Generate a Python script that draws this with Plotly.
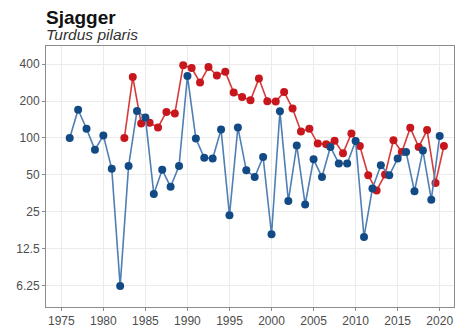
import plotly.graph_objects as go

blue_years = list(range(1976, 2021))
blue_values = [100, 170, 119, 80, 105, 56, 6.2, 59, 166, 147,
               35, 55, 40, 59, 320, 99, 69, 68, 117, 23.4,
               122, 54.5, 48, 70, 16.4, 165, 30.6, 87, 28.7, 67,
               48, 84.5, 62, 62, 94.5, 15.6, 38.7, 60, 49.6, 68,
               77, 36.8, 79, 31.4, 104]

red_years = list(range(1982, 2021))
red_values = [100, 314, 131, 133, 122, 163, 158, 392, 372, 283,
              379, 323, 346, 235, 216, 203, 305, 199, 198, 237,
              174, 113, 119, 90, 89, 95, 75, 109, 86, 49.6,
              37.4, 50.3, 96, 77, 121, 84.5, 116, 43, 86]

tick_vals = [6.25, 12.5, 25, 50, 100, 200, 400]
tick_text = ["6.25", "12.5", "25", "50", "100", "200", "400"]
x_ticks = [1975, 1980, 1985, 1990, 1995, 2000, 2005, 2010, 2015, 2020]

fig = go.Figure()
fig.add_trace(go.Scatter(
    x=[y + 0.5 for y in red_years], y=red_values, mode="lines+markers",
    line=dict(color="#d63a3a", width=1.6),
    marker=dict(color="#c8161d", size=8),
    showlegend=False))
fig.add_trace(go.Scatter(
    x=blue_years, y=blue_values, mode="lines+markers",
    line=dict(color="#4f7fb3", width=1.6),
    marker=dict(color="#124a86", size=8),
    showlegend=False))

axis_common = dict(showgrid=True, gridcolor="#ebebeb", gridwidth=1,
                   showline=True, linecolor="#8c8c8c", linewidth=1, mirror=True,
                   ticks="outside", ticklen=3, tickcolor="#8c8c8c",
                   zeroline=False, automargin=False,
                   tickfont=dict(size=12, color="#4d4d4d"))

fig.update_layout(
    width=456, height=334,
    margin=dict(l=46, r=2, t=46, b=27),
    paper_bgcolor="white", plot_bgcolor="white",
    font=dict(family="Liberation Sans, Arial, sans-serif", size=12, color="#4d4d4d"),
    xaxis=dict(range=[1973.18, 2021.7], tickvals=x_ticks, **axis_common),
    yaxis=dict(type="log", range=[0.622, 2.75], tickvals=tick_vals, ticktext=tick_text,
               **axis_common),
    annotations=[
        dict(text="<b>Sjagger</b>", xref="paper", yref="paper", x=0, y=1,
             xshift=-2, yshift=41, xanchor="left", yanchor="top", showarrow=False,
             font=dict(size=19, color="#111111", family="Liberation Sans, Arial, sans-serif")),
        dict(text="<i>Turdus pilaris</i>", xref="paper", yref="paper", x=0, y=1,
             xshift=-2, yshift=22, xanchor="left", yanchor="top", showarrow=False,
             font=dict(size=15.5, color="#333333", family="Liberation Sans, Arial, sans-serif")),
    ],
)

fig.write_html("out.html", config={"displayModeBar": False},
               post_script="document.body.style.margin='0';document.body.style.padding='0';")
